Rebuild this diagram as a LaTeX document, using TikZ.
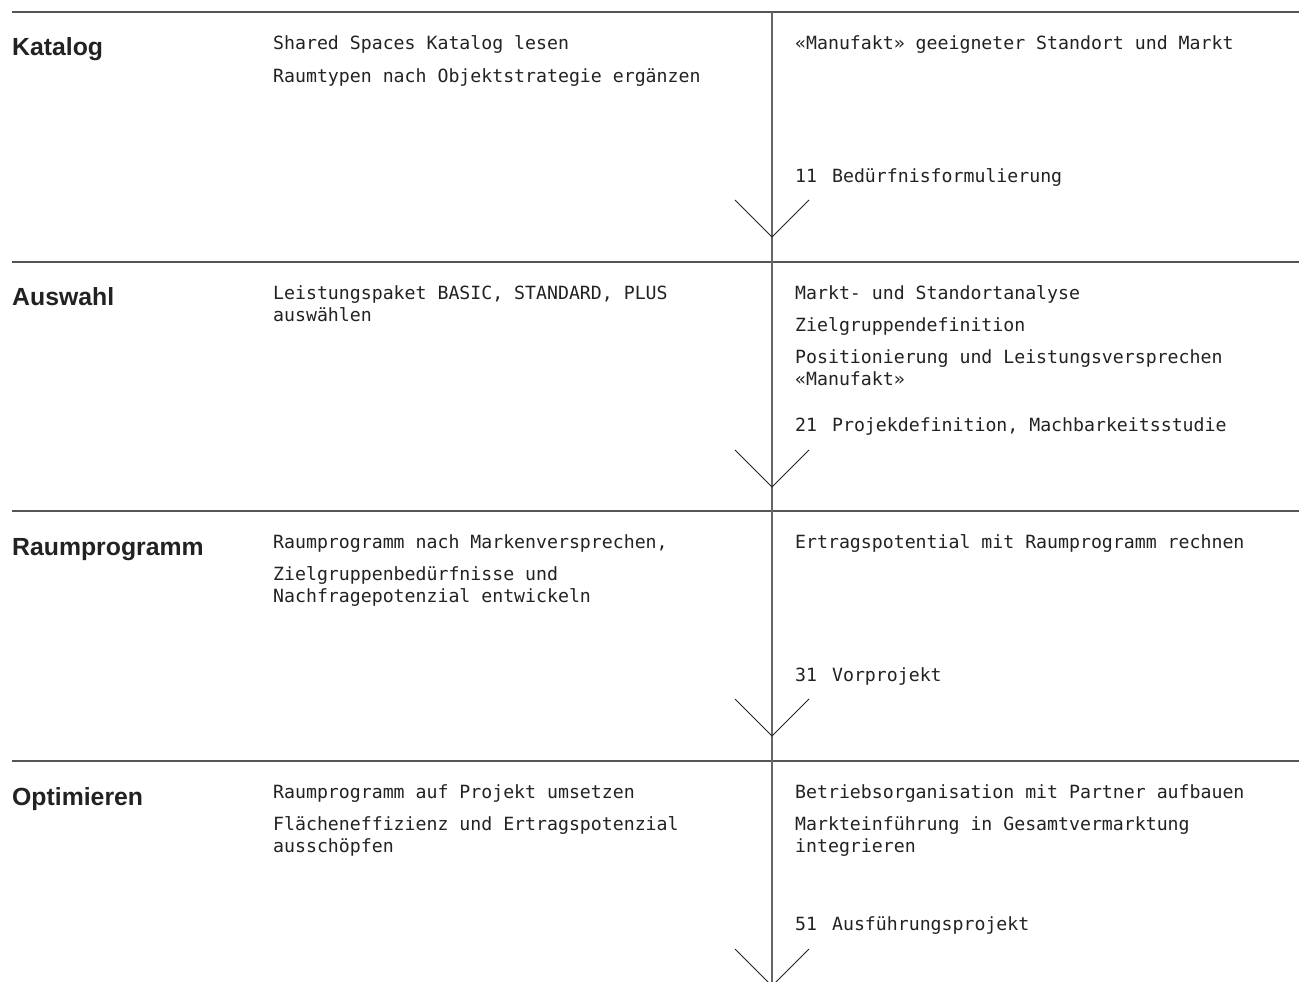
\documentclass[tikz,border=0pt]{standalone}
\usepackage{fontspec}
\setmainfont{Liberation Sans}
\newfontfamily\monof{DejaVu Sans Mono}
\newfontfamily\headf{Liberation Sans}
\definecolor{tx}{HTML}{222222}
\definecolor{lc}{HTML}{555555}
\definecolor{vc}{HTML}{666666}
\newcommand{\numgap}{\hspace{15pt}}
\begin{document}
\begin{tikzpicture}[x=1pt,y=-1pt,
  txt/.style={anchor=base west,inner sep=0pt,font=\monof\fontsize{18.2}{22}\selectfont,text=tx},
  head/.style={anchor=base west,inner sep=0pt,font=\headf\bfseries\fontsize{24.8}{28}\selectfont,text=tx},
  hline/.style={draw=lc,line width=1.3pt},
  vline/.style={draw=vc,line width=1.1pt},
  chev/.style={draw=tx,line width=0.8pt}]
\useasboundingbox (0,0) rectangle (1299,982);
% section rules
\coordinate (h1a) at (12,12);  \coordinate (h1b) at (1299,12);
\coordinate (h2a) at (12,262); \coordinate (h2b) at (1299,262);
\coordinate (h3a) at (12,511); \coordinate (h3b) at (1299,511);
\coordinate (h4a) at (12,761); \coordinate (h4b) at (1299,761);
\draw[hline] (h1a) -- (h1b);
\draw[hline] (h2a) -- (h2b);
\draw[hline] (h3a) -- (h3b);
\draw[hline] (h4a) -- (h4b);
% vertical flow line
\coordinate (vtop) at (772,12);
\coordinate (vbot) at (772,990);
\draw[vline] (vtop) -- (vbot);
% chevrons
\foreach \t/\n in {12/1,262/2,511/3,761/4}{
  \coordinate (c\n) at (772,\t+225);
  \coordinate (c\n l) at (735,\t+188);
  \coordinate (c\n r) at (809,\t+188);
  \draw[chev] (c\n l) -- (c\n) -- (c\n r);
}
% Section 1
\node[head] (k) at (12,56) {Katalog};
\node[txt] (k1) at (273,50) {Shared Spaces Katalog lesen};
\node[txt] (k2) at (273,82) {Raumtypen nach Objektstrategie ergänzen};
\node[txt] (k3) at (795,50) {«Manufakt» geeigneter Standort und Markt};
\node[txt] (k4) at (795,182) {11\numgap Bedürfnisformulierung};
% Section 2
\node[head] (a) at (12,305) {Auswahl};
\node[txt] (a1) at (273,299) {Leistungspaket BASIC, STANDARD, PLUS};
\node[txt] (a2) at (273,321) {auswählen};
\node[txt] (a3) at (795,299) {Markt- und Standortanalyse};
\node[txt] (a4) at (795,331) {Zielgruppendefinition};
\node[txt] (a5) at (795,363) {Positionierung und Leistungsversprechen};
\node[txt] (a6) at (795,385) {«Manufakt»};
\node[txt] (a7) at (795,431) {21\numgap Projekdefinition, Machbarkeitsstudie};
% Section 3
\node[head] (r) at (12,555) {Raumprogramm};
\node[txt] (r1) at (273,548) {Raumprogramm nach Markenversprechen,};
\node[txt] (r2) at (273,580) {Zielgruppenbedürfnisse und};
\node[txt] (r3) at (273,602) {Nachfragepotenzial entwickeln};
\node[txt] (r4) at (795,548) {Ertragspotential mit Raumprogramm rechnen};
\node[txt] (r5) at (795,681) {31\numgap Vorprojekt};
% Section 4
\node[head] (o) at (12,805) {Optimieren};
\node[txt] (o1) at (273,798) {Raumprogramm auf Projekt umsetzen};
\node[txt] (o2) at (273,830) {Flächeneffizienz und Ertragspotenzial};
\node[txt] (o3) at (273,852) {ausschöpfen};
\node[txt] (o4) at (795,798) {Betriebsorganisation mit Partner aufbauen};
\node[txt] (o5) at (795,830) {Markteinführung in Gesamtvermarktung};
\node[txt] (o6) at (795,852) {integrieren};
\node[txt] (o7) at (795,930) {51\numgap Ausführungsprojekt};
\end{tikzpicture}
\end{document}
